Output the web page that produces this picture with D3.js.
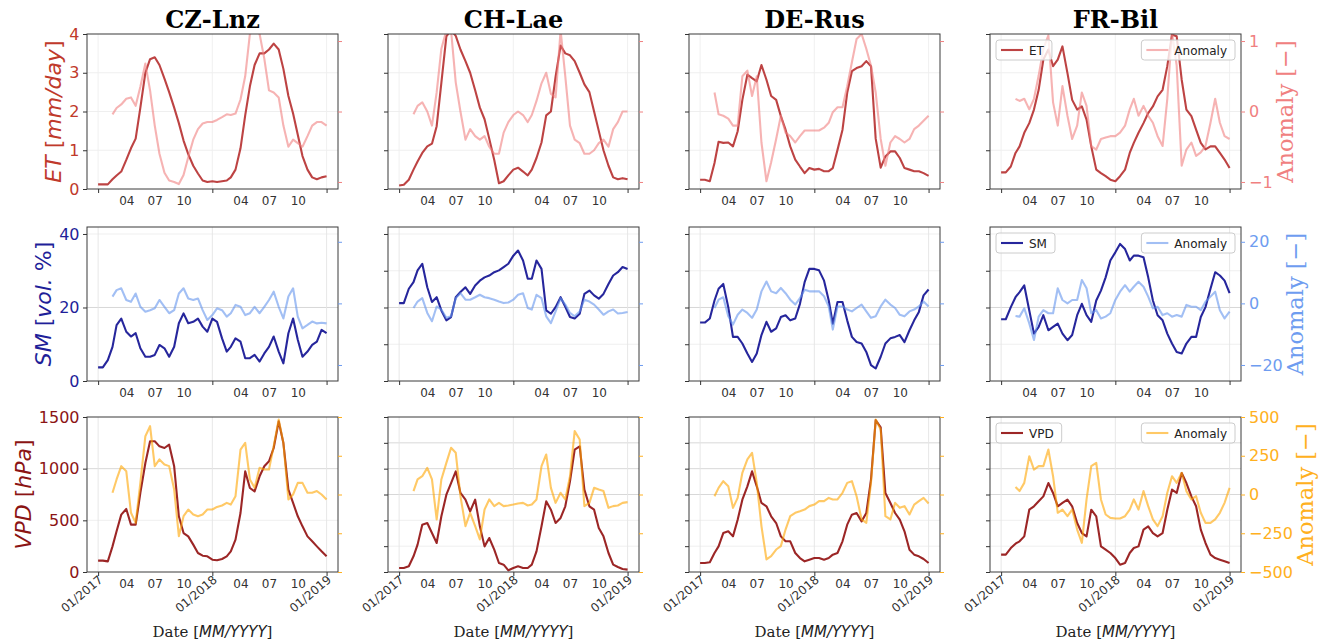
<!DOCTYPE html>
<html><head><meta charset="utf-8">
<script src="https://cdn.jsdelivr.net/npm/d3@7"></script>
<style>body{margin:0;background:#fff} svg{display:block}</style>
</head><body><svg id="c" width="1335" height="644"></svg>
<script>
// ---------- data ----------
const sites = ["CZ-Lnz","CH-Lae","DE-Rus","FR-Bil"];
const dates = ["2017-01-01","2017-01-16","2017-02-01","2017-02-16","2017-03-01","2017-03-16","2017-04-01","2017-04-16","2017-05-01","2017-05-16","2017-06-01","2017-06-16","2017-07-01","2017-07-16","2017-08-01","2017-08-16","2017-09-01","2017-09-16","2017-10-01","2017-10-16","2017-11-01","2017-11-16","2017-12-01","2017-12-16",
"2018-01-01","2018-01-16","2018-02-01","2018-02-16","2018-03-01","2018-03-16","2018-04-01","2018-04-16","2018-05-01","2018-05-16","2018-06-01","2018-06-16","2018-07-01","2018-07-16","2018-08-01","2018-08-16","2018-09-01","2018-09-16","2018-10-01","2018-10-16","2018-11-01","2018-11-16","2018-12-01","2018-12-16","2019-01-01"];
const yearTicks = ["2017-01-01","2018-01-01","2019-01-01"];
const yearLabels = ["01/2017","01/2018","01/2019"];
const monthTicks = ["2017-04-01","2017-07-01","2017-10-01","2018-04-01","2018-07-01","2018-10-01"];
const monthLabels = ["04","07","10","04","07","10"];

// ET [mm/day]
const etCZ = [0.12,0.12,0.12,0.25,0.35,0.45,0.75,1.05,1.3,2.1,3.0,3.35,3.4,3.2,2.85,2.5,2.1,1.7,1.25,0.9,0.6,0.4,0.22,0.18,0.2,0.18,0.2,0.22,0.3,0.5,1.05,1.9,2.65,3.2,3.5,3.5,3.6,3.75,3.6,3.1,2.4,1.95,1.4,0.85,0.5,0.3,0.25,0.3,0.33];
const etCH = [0.09,0.11,0.24,0.5,0.71,0.93,1.1,1.17,1.62,2.74,3.94,4.1,3.95,3.6,3.3,3.0,2.55,2.1,1.8,1.3,0.75,0.15,0.2,0.35,0.5,0.55,0.45,0.35,0.5,0.8,1.2,1.9,2.0,2.9,3.7,3.5,3.45,3.3,3.0,2.7,2.5,2.0,1.5,1.0,0.6,0.3,0.25,0.28,0.25];
const etDE = [0.24,0.24,0.2,0.67,1.22,1.19,1.2,1.1,1.49,2.3,2.95,2.86,2.78,3.2,2.82,2.4,2.3,1.88,1.53,1.1,0.76,0.58,0.41,0.54,0.5,0.52,0.46,0.46,0.54,1.01,1.53,2.48,3.04,3.12,3.17,3.3,3.17,1.3,0.55,0.84,0.97,0.97,0.8,0.54,0.5,0.46,0.46,0.41,0.34];
const etFR = [0.43,0.43,0.58,0.93,1.1,1.45,1.7,2.05,2.56,3.34,3.6,3.17,3.34,3.68,2.99,2.3,2.05,2.13,1.79,1.1,0.5,0.41,0.33,0.24,0.2,0.33,0.5,0.93,1.19,1.45,1.7,1.96,2.13,2.39,2.56,3.17,3.98,3.94,2.82,2.05,1.88,1.53,1.19,1.02,1.1,1.1,0.93,0.76,0.54];
const etAnCZ = [null,null,null,-0.04,0.05,0.1,0.18,0.2,0.08,0.35,0.68,0.3,-0.2,-0.6,-0.87,-0.98,-1.0,-1.03,-0.9,-0.65,-0.4,-0.25,-0.17,-0.15,-0.15,-0.12,-0.08,-0.04,-0.05,-0.03,0.17,0.5,1.1,1.15,1.1,0.75,0.3,0.27,0.2,-0.2,-0.5,-0.4,-0.45,-0.5,-0.35,-0.2,-0.15,-0.15,-0.2];
const etAnCH = [null,null,null,-0.04,0.08,0.13,0.0,-0.2,0.27,0.89,1.15,1.15,0.41,0.0,-0.4,-0.25,-0.35,-0.4,-0.35,-0.5,-0.6,-0.6,-0.3,-0.15,-0.05,0.0,-0.05,-0.15,-0.05,0.15,0.4,0.55,0.25,0.2,1.15,0.5,-0.2,-0.4,-0.45,-0.6,-0.6,-0.55,-0.45,-0.4,-0.5,-0.25,-0.15,0.0,0.0];
const etAnDE = [null,null,null,0.27,-0.04,-0.06,-0.1,-0.2,-0.2,0.5,0.58,0.22,0.5,-0.44,-0.99,-0.72,-0.39,-0.06,-0.3,-0.35,-0.44,-0.35,-0.27,-0.27,-0.27,-0.27,-0.23,-0.16,-0.01,0.06,0.06,0.36,0.7,1.03,1.1,0.89,0.65,0.27,-0.39,-0.77,-0.44,-0.35,-0.39,-0.44,-0.39,-0.25,-0.2,-0.13,-0.06];
const etAnFR = [null,null,null,0.18,0.15,0.18,0.03,0.18,0.51,0.89,1.08,0.13,-0.2,0.36,-0.06,-0.39,-0.2,0.27,0.08,-0.49,-0.54,-0.39,-0.37,-0.35,-0.35,-0.3,-0.2,0.03,0.18,-0.06,0.08,-0.06,-0.16,-0.35,-0.49,0.18,1.12,0.65,-0.77,-0.54,-0.44,-0.63,-0.58,-0.49,-0.16,0.18,-0.16,-0.35,-0.39];

// SM [vol. %]
const smCZ = [3.7,3.7,5.7,9.3,15.2,17.0,13.4,12.1,13.0,8.9,6.6,6.6,7.1,9.8,8.9,6.6,9.3,15.7,18.4,15.7,16.1,17.0,14.8,13.4,17.0,16.1,11.6,8.0,9.3,11.6,10.7,6.2,6.2,7.1,5.3,7.5,9.3,12.1,8.0,4.8,13.0,17.0,11.2,6.6,8.0,9.8,10.7,13.9,13.0];
const smCH = [21.2,21.2,25.1,26.9,30.1,31.9,25.5,21.5,22.8,19.2,16.5,17.4,22.8,24.2,25.5,23.7,26.0,27.3,28.2,28.7,29.6,30.1,31.0,31.9,34.1,35.5,32.8,27.8,27.8,32.8,30.5,19.2,18.3,20.1,22.8,20.2,17.4,17.0,18.3,23.7,24.6,23.3,22.4,23.7,26.4,28.7,29.6,31.0,30.5];
const smDE = [15.9,15.9,17.0,21.9,25.1,26.4,20.1,12.0,12.0,10.2,7.5,5.2,7.5,12.5,16.1,13.4,14.3,17.4,17.9,16.5,17.0,21.0,26.9,30.5,30.5,30.1,27.3,21.9,15.6,21.5,21.5,16.5,12.0,10.6,10.2,7.9,4.3,3.4,6.6,10.2,11.6,12.0,12.5,10.6,13.8,16.5,18.8,23.3,24.9];
const smFR = [16.8,16.8,20.1,22.8,24.2,26.0,19.2,12.9,14.7,17.9,13.8,14.7,15.6,12.9,11.1,12.5,17.9,21.0,17.9,16.1,21.9,24.6,28.2,32.8,35.0,37.3,35.9,32.8,34.1,34.1,33.7,28.2,21.9,17.9,16.5,12.9,10.2,7.9,7.5,10.2,12.0,12.0,17.4,20.1,25.1,29.6,28.7,27.3,23.9];
const smAnCZ = [null,null,null,2.2,4.3,4.9,1.1,0.5,3.2,-1.1,-2.7,-2.2,-1.6,1.1,-1.1,-3.2,-2.2,3.2,4.9,1.6,1.1,1.6,-2.2,-5.4,-3.8,-1.6,-2.2,-4.3,-3.2,-0.5,-1.1,-3.8,-3.2,-1.1,-3.2,-1.1,1.1,3.8,-1.1,-4.9,2.2,4.9,-4.3,-8.1,-7.0,-5.9,-6.5,-6.3,-6.5];
const smAnCH = [null,null,null,-1.5,0.6,1.7,-3.1,-5.8,-1.0,-2.0,-4.7,-4.2,1.7,3.3,1.2,1.2,2.0,2.8,2.0,1.7,1.2,0.6,0.1,0.3,1.2,2.8,3.3,-1.5,-2.0,2.8,1.7,-4.2,-6.4,-2.6,1.7,-0.4,-3.1,-4.2,-2.6,1.2,0.6,-0.4,-2.0,-3.7,-2.6,-2.0,-3.3,-3.1,-2.8];
const smAnDE = [null,null,null,-1.5,1.2,2.0,-4.2,-6.9,-3.7,-2.0,-3.1,-4.7,-2.0,3.9,7.1,3.9,3.3,5.0,3.3,1.2,-0.4,1.7,4.4,3.9,3.9,3.9,2.3,-1.0,-8.5,-1.0,-1.0,-2.0,-2.6,-1.5,-0.4,-2.6,-4.7,-4.2,-1.0,1.2,-0.4,-1.5,-3.7,-4.2,-2.6,-2.0,-1.0,0.6,-1.0];
const smAnFR = [null,null,null,-4.1,-4.3,-1.6,-6.5,-11.9,-4.3,-2.2,-3.2,-3.2,4.9,1.1,0.0,1.1,1.1,7.6,4.9,-3.2,-2.2,-4.9,-4.3,-3.2,1.1,3.8,5.9,3.8,5.4,7.0,5.4,2.2,-1.6,-1.1,-3.8,-3.2,-4.3,-3.8,-4.3,-0.5,-1.1,-1.1,-2.2,0.5,2.2,3.8,-2.2,-4.9,-2.7];

// VPD [hPa]
const vpdCZ = [110,110,103,248,394,555,610,458,458,765,1055,1265,1265,1216,1200,1232,1023,539,377,345,265,184,158,152,119,113,126,152,200,313,571,974,813,781,926,1023,1071,1200,1458,1248,797,668,539,442,345,297,248,200,152];
const vpdCH = [39,39,55,152,265,458,474,377,281,539,748,861,974,765,700,587,700,442,248,329,216,87,71,16,39,55,39,39,71,200,442,684,603,474,523,636,877,1184,1216,797,636,603,426,345,184,71,48,29,23];
const vpdDE = [87,87,94,184,248,377,394,345,506,700,829,974,829,668,636,539,474,345,297,297,184,135,103,119,135,135,119,135,168,184,297,458,555,571,490,571,894,1470,1400,765,668,571,506,394,216,168,152,126,87];
const vpdFR = [168,168,232,274,297,345,603,636,684,732,861,765,636,668,700,636,474,377,345,603,539,248,216,184,135,71,87,184,232,248,410,442,377,345,377,603,797,765,958,861,732,636,410,281,168,135,119,103,87];
const vpdAnCZ = [null,null,null,11,97,183,150,-118,-183,75,376,441,183,226,194,183,32,-269,-140,-97,-129,-140,-129,-97,-97,-80,-71,-54,-65,-11,290,333,97,43,172,161,161,312,484,333,-32,0,75,75,11,11,22,0,-32];
const vpdAnCH = [null,null,null,22,97,118,172,97,-161,97,204,301,269,-11,-204,-118,-204,-290,-97,-32,-75,-54,-75,-71,-65,-58,-54,-71,-65,-32,183,258,43,-54,11,-32,118,409,355,-75,-54,43,32,22,-86,-75,-71,-54,-49];
const vpdAnDE = [null,null,null,-11,43,86,54,-86,-22,140,226,269,75,-204,-419,-398,-355,-333,-226,-140,-118,-108,-97,-75,-65,-43,-43,-22,-32,-32,11,75,86,-11,-161,-183,75,484,419,-140,-161,-54,-86,-75,-129,-65,-43,-22,-58];
const vpdAnFR = [null,null,null,49,22,75,247,161,183,183,290,118,-118,-97,-140,-97,-226,-312,-32,183,204,-32,-129,-151,-155,-155,-140,-97,-32,-97,22,-75,-161,-204,-140,11,118,75,140,22,-32,-11,-118,-183,-183,-161,-118,-54,43];

// axis tick values
const etTicks = [0,1,2,3,4], etAnTicks = [-1,0,1];
const smTicksFirst = [0,20,40], smTicks = [0,10,20,30,40], smAnTicks = [-20,0,20];
const vpdTicksFirst = [0,500,1000,1500], vpdTicks = [0,250,500,750,1000,1250,1500], vpdAnTicks = [-500,-250,0,250,500];

// ---------- drawing ----------
const svg = d3.select("#c");
const parse = d3.utcParse("%Y-%m-%d");
const dts = dates.map(parse);
const colX = [87,388,689,990], pw = 251;
const rowY = [[34,189],[227,381],[417,572]];
const xDom = [new Date(Date.UTC(2016,10,26,12)), new Date(Date.UTC(2019,1,6,12))];
const SANS = "DejaVu Sans, sans-serif", SERIF = "DejaVu Serif, serif";

const rows = [
  {main:[etCZ,etCH,etDE,etFR], anom:[etAnCZ,etAnCH,etAnDE,etAnFR], yDom:[0,4], aDom:[-1.1,1.1],
   t1:etTicks, tN:etTicks, at:etAnTicks, strong:[],
   mc:"#b22222", ac:"#f08080", lc:"#c0392b", rc:"#f08080", name:"ET",
   label:[["ET",1],[" [",0],["mm/day",1],["]",0]], lx:61, rx:1293},
  {main:[smCZ,smCH,smDE,smFR], anom:[smAnCZ,smAnCH,smAnDE,smAnFR], yDom:[0,41.9], aDom:[-25.2,24.8],
   t1:smTicksFirst, tN:smTicks, at:smAnTicks, strong:[20],
   mc:"#00008b", ac:"#6495ed", lc:"#1f1f99", rc:"#6e9cf0", name:"SM",
   label:[["SM",1],[" [",0],["vol.",1],[" %]",0]], lx:51, rx:1303},
  {main:[vpdCZ,vpdCH,vpdDE,vpdFR], anom:[vpdAnCZ,vpdAnCH,vpdAnDE,vpdAnFR], yDom:[0,1500], aDom:[-500,500],
   t1:vpdTicksFirst, tN:vpdTicks, at:vpdAnTicks, strong:[750,1000,1250],
   mc:"#8b0000", ac:"#ffa500", lc:"#8b1414", rc:"#ffb020", name:"VPD",
   label:[["VPD",1],[" [",0],["hPa",1],["]",0]], lx:31, rx:1313}
];

// titles
sites.forEach((s,c)=>{
  svg.append("text").attr("x",colX[c]+pw/2).attr("y",28).attr("text-anchor","middle")
    .attr("font-family",SERIF).attr("font-weight","bold").attr("font-size",24).attr("fill","#000").text(s);
});

rows.forEach((R,r)=>{
  const [top,bot] = rowY[r];
  const y = d3.scaleLinear().domain(R.yDom).range([bot,top]);
  const ya = d3.scaleLinear().domain(R.aDom).range([bot,top]);
  sites.forEach((s,c)=>{
    const left = colX[c], right = left+pw;
    const x = d3.scaleUtc().domain(xDom).range([left,right]);
    const g = svg.append("g");
    const lt = c===0 ? R.t1 : R.tN;
    // grid
    g.selectAll("line.hg").data(lt.filter(v=>v>R.yDom[0] && v<R.yDom[1])).join("line")
      .attr("x1",left).attr("x2",right).attr("y1",d=>y(d)).attr("y2",d=>y(d))
      .attr("stroke",d=>R.strong.includes(d)?"#d4d4d4":"#ededed").attr("stroke-width",0.9);
    g.selectAll("line.vg").data(yearTicks.map(parse)).join("line")
      .attr("x1",d=>x(d)).attr("x2",d=>x(d)).attr("y1",top).attr("y2",bot)
      .attr("stroke",r===0?"#eeeeee":"#e4e4e4").attr("stroke-width",0.9);
    // clip
    const cid = `clip${r}${c}`;
    svg.append("clipPath").attr("id",cid).append("rect")
      .attr("x",left).attr("y",top).attr("width",pw).attr("height",bot-top);
    const pg = g.append("g").attr("clip-path",`url(#${cid})`);
    const lineM = d3.line().defined(d=>d[1]!=null).x(d=>x(d[0])).y(d=>y(d[1]));
    const lineA = d3.line().defined(d=>d[1]!=null).x(d=>x(d[0])).y(d=>ya(d[1]));
    pg.append("path").datum(dts.map((d,i)=>[d,R.main[c][i]])).attr("d",lineM)
      .attr("fill","none").attr("stroke",R.mc).attr("stroke-opacity",0.85).attr("stroke-width",2.1)
      .attr("stroke-linejoin","round");
    pg.append("path").datum(dts.map((d,i)=>[d,R.anom[c][i]])).attr("d",lineA)
      .attr("fill","none").attr("stroke",R.ac).attr("stroke-opacity",0.6).attr("stroke-width",2.1)
      .attr("stroke-linejoin","round");
    // spines
    g.append("rect").attr("x",left).attr("y",top).attr("width",pw).attr("height",bot-top)
      .attr("fill","none").attr("stroke","#3a3a3a").attr("stroke-width",1);
    // left axis
    const la = g.append("g").attr("transform",`translate(${left},0)`)
      .call(d3.axisLeft(y).tickValues(lt).tickSize(4).tickPadding(3.5)
        .tickFormat(c===0? d3.format("d") : ()=>""));
    la.select(".domain").remove();
    la.selectAll("line").attr("stroke","#333");
    la.selectAll("text").attr("font-family",SANS).attr("font-size",16).attr("fill",R.lc);
    // right axis
    const ra = g.append("g").attr("transform",`translate(${right},0)`)
      .call(d3.axisRight(ya).tickValues(R.at).tickSize(4).tickPadding(4)
        .tickFormat(c===3? d3.format("d") : ()=>""));
    ra.select(".domain").remove();
    ra.selectAll("line").attr("stroke",R.rc);
    ra.selectAll("text").attr("font-family",SANS).attr("font-size",16).attr("fill",R.rc);
    // bottom axes
    const ba = g.append("g").attr("transform",`translate(0,${bot})`)
      .call(d3.axisBottom(x).tickValues(yearTicks.map(parse)).tickSize(4).tickPadding(3)
        .tickFormat((d,i)=> r===2 ? yearLabels[i] : ""));
    ba.select(".domain").remove();
    ba.selectAll("line").attr("stroke","#333");
    ba.selectAll("text").attr("font-family",SANS).attr("font-size",12).attr("fill","#333")
      .attr("text-anchor","end").attr("dy",null).attr("y",null)
      .attr("transform","translate(5,9) rotate(-40)");
    const ma = g.append("g").attr("transform",`translate(0,${bot})`)
      .call(d3.axisBottom(x).tickValues(monthTicks.map(parse)).tickSize(0).tickPadding(7)
        .tickFormat((d,i)=>monthLabels[i]));
    ma.select(".domain").remove();
    ma.selectAll("text").attr("font-family",SANS).attr("font-size",12).attr("fill","#333");
    // x label
    if (r===2) {
      const t = g.append("text").attr("x",left+pw/2).attr("y",637).attr("text-anchor","middle")
        .attr("font-size",15).attr("fill","#222");
      t.append("tspan").attr("font-family",SERIF).text("Date [");
      t.append("tspan").attr("font-family",SANS).attr("font-style","italic").text("MM/YYYY");
      t.append("tspan").attr("font-family",SERIF).text("]");
    }
    // y labels
    if (c===0) {
      const cy = (top+bot)/2;
      const t = g.append("text").attr("transform",`translate(${R.lx},${cy}) rotate(-90)`)
        .attr("text-anchor","middle").attr("font-family",SANS).attr("font-size",22).attr("fill",R.lc);
      R.label.forEach(([txt,it])=>t.append("tspan").attr("font-style",it?"italic":"normal").text(txt));
    }
    if (c===3) {
      const cy = (top+bot)/2;
      g.append("text").attr("transform",`translate(${R.rx},${cy}) rotate(-90)`)
        .attr("text-anchor","middle").attr("font-family",SERIF).attr("font-size",22.5).attr("fill",R.rc)
        .text("Anomaly [\u2212]");
      // legends
      const legend = (bx, by, label, color, alignRight) => {
        const lg = g.append("g");
        const rect = lg.append("rect").attr("y",by).attr("height",20).attr("rx",3)
          .attr("fill","#fff").attr("fill-opacity",0.8).attr("stroke","#cccccc").attr("stroke-width",1);
        const txt = lg.append("text").attr("y",by+14.5).attr("font-family",SANS).attr("font-size",12)
          .attr("fill","#222").text(label);
        const tw = txt.node().getComputedTextLength();
        const w = 36 + tw + 5;
        const x0 = alignRight ? bx - w : bx;
        rect.attr("x",x0).attr("width",w);
        txt.attr("x",x0+33);
        lg.append("line").attr("x1",x0+5).attr("x2",x0+27).attr("y1",by+10).attr("y2",by+10)
          .attr("stroke",color).attr("stroke-width",2.1).attr("stroke-opacity",label==="Anomaly"?0.6:0.85);
      };
      legend(left+6, top+6, R.name, R.mc, false);
      legend(right-6, top+6, "Anomaly", R.ac, true);
    }
  });
});
</script></body></html>
